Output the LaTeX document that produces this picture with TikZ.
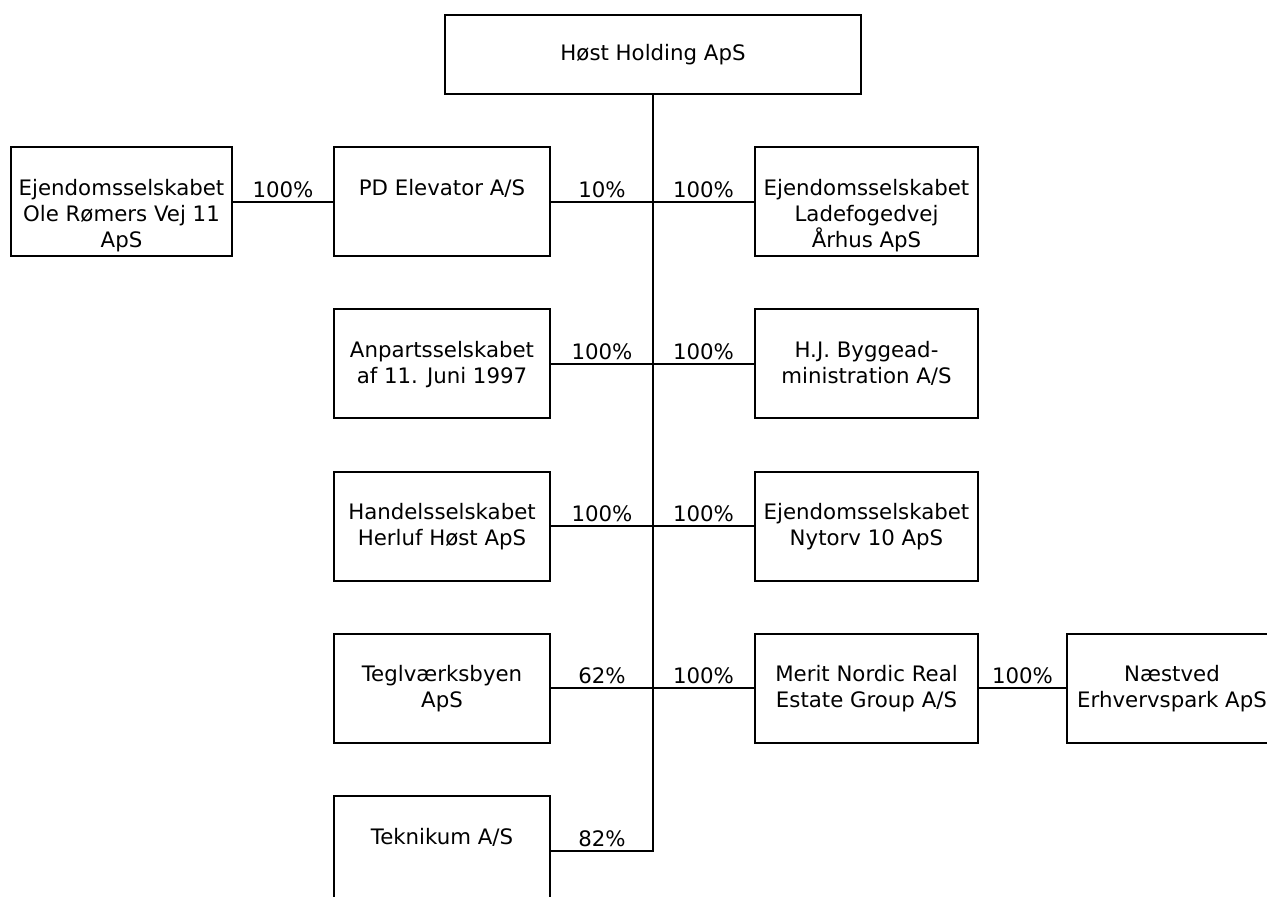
\documentclass[tikz,border=0pt]{standalone}
\usepackage{fontspec}
\setmainfont{DejaVu Sans}
\begin{document}
\begin{tikzpicture}[x=1pt,y=-1pt,
  font=\fontsize{21.3}{26}\selectfont,
  line width=2pt,
  box/.style={draw, rectangle, minimum height=109pt, inner sep=0pt, anchor=north west},
  bt/.style={label={[anchor=north, yshift=-32pt, align=center, inner sep=0pt]north:#1}},
  pct/.style={anchor=base, yshift=4.5pt, inner sep=0pt}]
\useasboundingbox (0,0) rectangle (1267,897);
% top
\node[draw, rectangle, minimum width=416pt, minimum height=79pt, inner sep=0pt, anchor=north west] (host) at (444,14) {Høst Holding ApS};
% row 1
\node[box, minimum width=221pt, bt={Ejendomsselskabet\\Ole Rømers Vej 11\\ApS}] (ole) at (10,146) {};
\node[box, minimum width=216pt, bt={PD Elevator A/S}] (pd) at (333,146) {};
\node[box, minimum width=223pt, bt={Ejendomsselskabet\\Ladefogedvej\\Århus ApS}] (lade) at (754,146) {};
% row 2
\node[box, minimum width=216pt, bt={Anpartsselskabet\\af 11. Juni 1997}] (anp) at (333,308.3) {};
\node[box, minimum width=223pt, bt={H.J. Byggead-\\ministration A/S}] (hj) at (754,308.3) {};
% row 3
\node[box, minimum width=216pt, bt={Handelsselskabet\\Herluf Høst ApS}] (han) at (333,470.5) {};
\node[box, minimum width=223pt, bt={Ejendomsselskabet\\Nytorv 10 ApS}] (nyt) at (754,470.5) {};
% row 4
\node[box, minimum width=216pt, bt={Teglværksbyen\\ApS}] (teg) at (333,632.8) {};
\node[box, minimum width=223pt, bt={Merit Nordic Real\\Estate Group A/S}] (mer) at (754,632.8) {};
\node[box, minimum width=210pt, bt={Næstved\\Erhvervspark ApS}] (nae) at (1066,632.8) {};
% row 5
\node[box, minimum width=216pt, bt={Teknikum A/S}] (tek) at (333,795) {};
% trunk junctions
\coordinate (j1) at (host.south |- pd.east);
\coordinate (j2) at (host.south |- anp.east);
\coordinate (j3) at (host.south |- han.east);
\coordinate (j4) at (host.south |- teg.east);
\coordinate (j5) at (host.south |- tek.east);
% trunk and bottom connector
\draw (tek.east) -- node[pct]{82\%} (j5) -- (host.south);
% connectors
\draw (ole.east) -- node[pct]{100\%} (pd.west);
\draw (pd.east) -- node[pct]{10\%} (j1);
\draw (j1) -- node[pct]{100\%} (lade.west);
\draw (anp.east) -- node[pct]{100\%} (j2);
\draw (j2) -- node[pct]{100\%} (hj.west);
\draw (han.east) -- node[pct]{100\%} (j3);
\draw (j3) -- node[pct]{100\%} (nyt.west);
\draw (teg.east) -- node[pct]{62\%} (j4);
\draw (j4) -- node[pct]{100\%} (mer.west);
\draw (mer.east) -- node[pct]{100\%} (nae.west);
\end{tikzpicture}
\end{document}
